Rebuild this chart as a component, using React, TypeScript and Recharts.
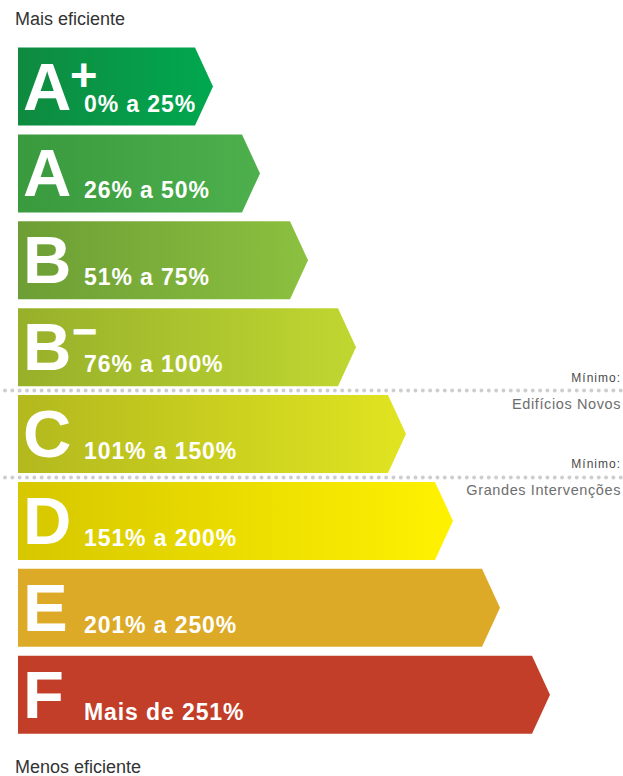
import { BarChart, Bar, XAxis, YAxis } from "recharts";

const classes = ["A+", "A", "B", "B-", "C", "D", "E", "F"];
const letters = ["A", "A", "B", "B", "C", "D", "E", "F"];
const marks = ["+", "", "", "–", "", "", "", ""];
const ranges = [
  "0% a 25%",
  "26% a 50%",
  "51% a 75%",
  "76% a 100%",
  "101% a 150%",
  "151% a 200%",
  "201% a 250%",
  "Mais de 251%",
];
// arrow length (tip), px-scale units
const arrowLengths = [195, 242, 290, 338, 388, 435, 482, 532];
const colorsFrom = ["#0f8a3f", "#399a3e", "#6c9e35", "#97b02a", "#b3b91e", "#d6c700", "#dcaa26", "#c23e28"];
const colorsTo = ["#00a84f", "#4db04c", "#8cc03f", "#c0d731", "#e0e420", "#fff200", "#dcaa26", "#c23e28"];

const minimumBefore = ["C", "D"];
const minimumLabels = ["Edifícios Novos", "Grandes Intervenções"];

const data = classes.map((c, i) => ({
  classe: c,
  comprimento: arrowLengths[i],
  letra: letters[i],
  marca: marks[i],
  faixa: ranges[i],
  idx: i,
}));

const FONT = "'Liberation Sans', Arial, sans-serif";
const TIP = 18;

function Arrow(props: any) {
  const { x, y, width, height, payload } = props;
  const i = payload.idx;
  const body = width - TIP;
  const pts = [
    [x, y],
    [x + body, y],
    [x + width, y + height / 2],
    [x + body, y + height],
    [x, y + height],
  ]
    .map((p) => p.join(","))
    .join(" ");
  const mi = minimumBefore.indexOf(payload.classe);
  const lineY = y - 4.5;
  const plus = payload.marca === "+";
  return (
    <g>
      {mi >= 0 && (
        <g>
          <line
            x1={5}
            x2={623}
            y1={lineY}
            y2={lineY}
            stroke="#cecece"
            strokeWidth={4}
            strokeDasharray="0 7.33"
            strokeLinecap="round"
          />
          <text
            x={621}
            y={lineY - 9}
            textAnchor="end"
            fontFamily={FONT}
            fontSize={12}
            letterSpacing={1}
            fill="#4a4a4a"
          >
            Mínimo:
          </text>
          <text
            x={621}
            y={lineY + 18}
            textAnchor="end"
            fontFamily={FONT}
            fontSize={14.5}
            letterSpacing={0.6}
            fill="#6e6e6e"
          >
            {minimumLabels[mi]}
          </text>
        </g>
      )}
      <polygon points={pts} fill={`url(#grad-${i})`} />
      <text
        x={x + 5}
        y={y + 62}
        fontFamily={FONT}
        fontWeight="bold"
        fontSize={67}
        fill="#fff"
      >
        {payload.letra}
      </text>
      {payload.marca && (
        <text
          x={plus ? x + 52 : x + 55}
          y={plus ? y + 43 : y + 35}
          fontFamily={FONT}
          fontWeight="bold"
          fontSize={plus ? 47 : 42}
          fill="#fff"
          stroke="#fff"
          strokeWidth={plus ? 0 : 1.2}
        >
          {payload.marca}
        </text>
      )}
      <text
        x={x + 66}
        y={y + 64}
        fontFamily={FONT}
        fontWeight="bold"
        fontSize={23}
        letterSpacing={0.9}
        fill="#fff"
      >
        {payload.faixa}
      </text>
    </g>
  );
}

export default function App() {
  return (
    <div
      style={{
        position: "fixed",
        left: 0,
        top: 0,
        width: 623,
        height: 776,
        background: "#fff",
        overflow: "hidden",
        fontFamily: FONT,
      }}
    >
      <div
        style={{
          position: "absolute",
          left: 15,
          top: 8,
          fontSize: 18,
          color: "#333",
          lineHeight: "22px",
        }}
      >
        Mais eficiente
      </div>
      <div
        style={{
          position: "absolute",
          left: 15,
          top: 756,
          fontSize: 18,
          color: "#333",
          lineHeight: "22px",
        }}
      >
        Menos eficiente
      </div>
      <div style={{ position: "absolute", left: 0, top: 0 }}>
        <BarChart
          width={623}
          height={776}
          data={data}
          layout="vertical"
          margin={{ top: 43.5, right: 0, bottom: 37.5, left: 18 }}
          barSize={78}
        >
          <defs>
            {classes.map((c, i) => (
              <linearGradient key={c} id={`grad-${i}`} x1="0" y1="0" x2="1" y2="0">
                <stop offset="0%" stopColor={colorsFrom[i]} />
                <stop offset="100%" stopColor={colorsTo[i]} />
              </linearGradient>
            ))}
          </defs>
          <XAxis type="number" domain={[0, 605]} hide />
          <YAxis type="category" dataKey="classe" hide />
          <Bar dataKey="comprimento" shape={Arrow} isAnimationActive={false} />
        </BarChart>
      </div>
    </div>
  );
}
